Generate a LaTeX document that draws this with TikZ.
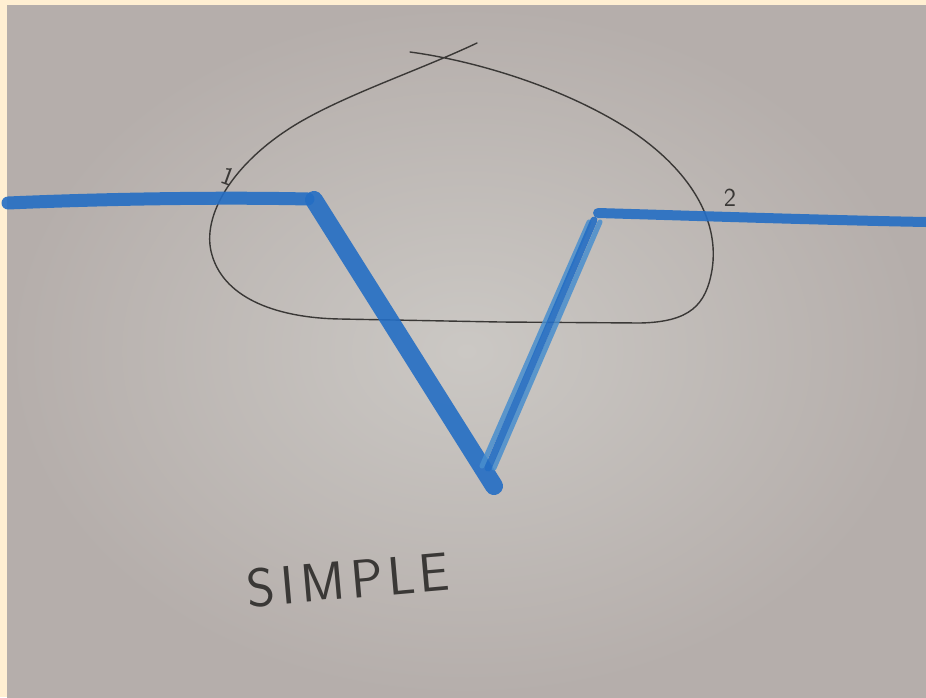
\documentclass[tikz,border=0pt]{standalone}
\usetikzlibrary{shadings}
\definecolor{frame}{HTML}{FFEFD2}
\definecolor{boardin}{HTML}{CBC8C4}
\definecolor{boardout}{HTML}{B5AEAB}
\definecolor{marker}{RGB}{36,110,196}
\definecolor{markerlight}{RGB}{72,142,206}
\definecolor{pen}{HTML}{3A3836}
\tikzset{
  bluestroke/.style={draw=marker, line width=13pt, line cap=round, line join=round, opacity=0.9},
  bluethin/.style={draw=markerlight, line width=5pt, line cap=round, line join=round, opacity=0.85},
  penline/.style={draw=pen, line width=1.4pt, line cap=round, line join=round},
  hand/.style={text=pen, font=\sffamily, inner sep=0pt}
}
\begin{document}
\begin{tikzpicture}[x=1pt,y=-1pt]
\useasboundingbox (0,0) rectangle (926,697);
\fill[frame] (0,0) rectangle (926,697);
\shade[inner color=boardin, outer color=boardout] (7,5) rectangle (926,697);
% loop
\draw[penline] (410,52) .. controls (470,60) and (560,85) .. (630,130)
  .. controls (690,170) and (720,220) .. (712,270)
  .. controls (706,305) and (690,322) .. (640,323)
  -- (500,322) -- (340,319)
  .. controls (280,318) and (225,300) .. (212,255)
  .. controls (200,215) and (235,160) .. (300,122)
  .. controls (350,93) and (420,70) .. (477,43);
% blue marker line
\draw[bluestroke, line width=13pt] (8,203) .. controls (100,199) and (220,197) .. (308,199);
\draw[bluestroke, line width=18pt] (314,200) -- (494,486);
\draw[bluethin] (482,466) -- (589,222);
\draw[bluethin] (494,468) -- (600,222);
\draw[bluestroke, line width=7pt] (488,468) -- (594,220);
\draw[bluestroke, line width=10pt] (598,213) .. controls (700,216) and (820,220) .. (926,222);
% labels
\node[hand, font=\sffamily\fontsize{26}{26}\selectfont, rotate=-20] (one) at (228,176) {1};
\node[hand, font=\sffamily\fontsize{26}{26}\selectfont] (two) at (730,198) {2};
\node[hand, font=\sffamily\fontsize{54}{54}\selectfont, rotate=5] (simple) at (348,580) {S\kern6pt I\kern6pt M\kern6pt P\kern4pt L\kern4pt E};
\end{tikzpicture}
\end{document}
